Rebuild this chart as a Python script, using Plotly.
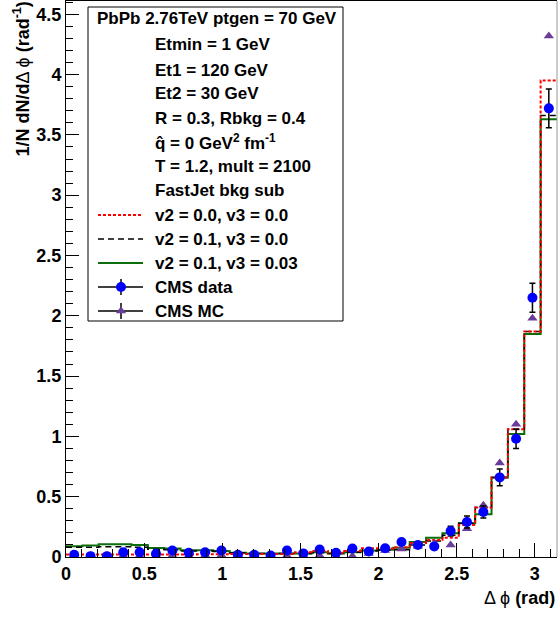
import numpy as np
import plotly.graph_objects as go

# ---------------- data (30 bins in delta phi from 0 to pi) ----------------
n_bins = 30

hist_v2_00_v3_00 = [0.020, 0.020, 0.020, 0.020, 0.020, 0.020, 0.020, 0.020, 0.022, 0.022,
                    0.025, 0.025, 0.025, 0.025, 0.040, 0.050, 0.035, 0.050, 0.073, 0.070,
                    0.080, 0.117, 0.140, 0.160, 0.265, 0.410, 0.660, 1.060, 1.870, 3.950]
hist_v2_01_v3_00 = [0.080, 0.080, 0.085, 0.085, 0.080, 0.065, 0.060, 0.050, 0.050, 0.045,
                    0.035, 0.030, 0.030, 0.030, 0.030, 0.035, 0.030, 0.040, 0.050, 0.055,
                    0.060, 0.100, 0.133, 0.180, 0.280, 0.410, 0.660, 1.060, 1.870, 3.660]
hist_v2_01_v3_003 = [0.090, 0.095, 0.105, 0.105, 0.100, 0.075, 0.070, 0.057, 0.055, 0.050,
                     0.035, 0.030, 0.030, 0.030, 0.030, 0.040, 0.030, 0.040, 0.054, 0.060,
                     0.076, 0.124, 0.160, 0.196, 0.280, 0.354, 0.660, 1.020, 1.850, 3.630]
cms_data = [0.018, 0.007, 0.007, 0.040, 0.040, 0.027, 0.054, 0.035, 0.040, 0.054,
            0.018, 0.018, 0.012, 0.054, 0.030, 0.062, 0.035, 0.070, 0.045, 0.072,
            0.125, 0.100, 0.088, 0.215, 0.290, 0.373, 0.660, 0.980, 2.150, 3.720]
cms_data_err = [0.015, 0.015, 0.015, 0.015, 0.015, 0.015, 0.015, 0.015, 0.015, 0.015,
                0.015, 0.015, 0.015, 0.015, 0.015, 0.015, 0.015, 0.015, 0.015, 0.018,
                0.020, 0.020, 0.020, 0.040, 0.050, 0.050, 0.070, 0.080, 0.120, 0.160]
cms_mc = [0.012, 0.012, 0.012, 0.012, 0.012, 0.012, 0.012, 0.012, 0.015, 0.015,
          0.012, 0.012, 0.012, 0.012, 0.012, 0.012, 0.008, 0.008, 0.030, 0.054,
          0.066, 0.090, 0.110, 0.100, 0.235, 0.430, 0.780, 1.100, 1.980, 4.320]

legend_header = "PbPb 2.76TeV ptgen = 70 GeV"
legend_info = ["Etmin = 1 GeV", "Et1 = 120 GeV", "Et2 = 30 GeV", "R = 0.3, Rbkg = 0.4",
               "q\u0302 = 0 GeV<sup>2</sup> fm<sup>-1</sup>", "T = 1.2, mult = 2100",
               "FastJet bkg sub"]
legend_series = ["v2 = 0.0, v3 = 0.0", "v2 = 0.1, v3 = 0.0", "v2 = 0.1, v3 = 0.03",
                 "CMS data", "CMS MC"]

edges = np.linspace(0, np.pi, n_bins + 1)
centers = 0.5 * (edges[:-1] + edges[1:])

# ---------------- layout geometry ----------------
W, H = 559, 617
L, R, T, B = 66, 2, 1, 60
pw, ph = W - L - R, H - T - B


def px(x):
    return (x - L) / pw


def py(y):
    return (H - B - y) / ph


FONT = "Liberation Sans"
RED, BLACK, GREEN = "#ff0000", "#000000", "#0a6e0a"
BLUE, PURPLE = "#0000ff", "#6a3d9a"

fig = go.Figure()


def step_y(v):
    return list(v) + [v[-1]]


fig.add_trace(go.Scatter(x=edges, y=step_y(hist_v2_01_v3_003), mode="lines", line_shape="hv",
                         line=dict(color=GREEN, width=2), showlegend=False))
fig.add_trace(go.Scatter(x=edges, y=step_y(hist_v2_01_v3_00), mode="lines", line_shape="hv",
                         line=dict(color=BLACK, width=1.5, dash="6px,4px"), showlegend=False))
fig.add_trace(go.Scatter(x=edges, y=step_y(hist_v2_00_v3_00), mode="lines", line_shape="hv",
                         line=dict(color=RED, width=2, dash="3px,2px"), showlegend=False))
fig.add_trace(go.Scatter(x=centers, y=cms_mc, mode="markers",
                         marker=dict(symbol="triangle-up", size=9, color=PURPLE),
                         showlegend=False))
fig.add_trace(go.Scatter(x=centers, y=cms_data, mode="markers",
                         marker=dict(symbol="circle", size=10, color=BLUE),
                         error_y=dict(type="data", array=cms_data_err, color=BLACK,
                                      thickness=1.5, width=3),
                         showlegend=False))

# ---------------- legend (manual, ROOT-like) ----------------
row_y = [18, 45, 70, 94, 118, 142, 166, 190, 215, 239, 263, 287, 311]
lx0, lx1, lxm = 98, 143, 121

legend_lines = [(RED, "3px,2px", 2), (BLACK, "6px,4px", 1.5), (GREEN, "solid", 2)]
for (col, dash, w), yy in zip(legend_lines, row_y[8:11]):
    fig.add_trace(go.Scatter(x=[lx0, lx1], y=[yy, yy], xaxis="x2", yaxis="y2", mode="lines",
                             line=dict(color=col, dash=dash, width=w), showlegend=False,
                             hoverinfo="skip"))
for (sym, col, sz), yy in zip([("circle", BLUE, 10), ("triangle-up", PURPLE, 9)], row_y[11:13]):
    fig.add_trace(go.Scatter(x=[lx0, lx1], y=[yy, yy], xaxis="x2", yaxis="y2", mode="lines",
                             line=dict(color=BLACK, width=1.5), showlegend=False,
                             hoverinfo="skip"))
    fig.add_trace(go.Scatter(x=[lxm, lxm], y=[yy - 8, yy + 8], xaxis="x2", yaxis="y2",
                             mode="lines", line=dict(color=BLACK, width=1.5),
                             showlegend=False, hoverinfo="skip"))
    fig.add_trace(go.Scatter(x=[lxm], y=[yy], xaxis="x2", yaxis="y2", mode="markers",
                             marker=dict(symbol=sym, size=sz, color=col), showlegend=False,
                             hoverinfo="skip"))

annotations = []
lfont = dict(family=FONT, size=17, color="black", weight="bold")
annotations.append(dict(text=legend_header, x=px(95), y=py(row_y[0]), xref="paper",
                        yref="paper", xanchor="left", yanchor="middle", showarrow=False,
                        font=lfont))
for txt, yy in zip(legend_info + legend_series, row_y[1:]):
    annotations.append(dict(text=txt, x=px(153), y=py(yy), xref="paper", yref="paper",
                            xanchor="left", yanchor="middle", showarrow=False, font=lfont))

greek = "<span style='font-weight:normal'>\u0394 \u03d5</span>"
annotations.append(dict(text=greek + " (rad)", x=1.0, y=py(598), xref="paper", yref="paper",
                        xanchor="right", yanchor="middle", showarrow=False,
                        font=dict(family=FONT, size=18, color="black", weight="bold")))
annotations.append(dict(text="1/N dN/d" + greek + " (rad<sup>-1</sup>)", x=px(22), y=py(0),
                        xref="paper", yref="paper", xanchor="center", yanchor="top",
                        textangle=-90, showarrow=False,
                        font=dict(family=FONT, size=18, color="black", weight="bold")))

shapes = [
    dict(type="rect", xref="paper", yref="paper", x0=px(88), x1=px(343), y0=py(7), y1=py(321),
         line=dict(color="black", width=1), fillcolor="rgba(0,0,0,0)"),
    dict(type="line", xref="paper", yref="paper", x0=1, x1=1, y0=0, y1=1,
         line=dict(color="#999999", width=1)),
]

tickfont = dict(family=FONT, size=18, color="black", weight="bold")
fig.update_layout(
    width=W, height=H, margin=dict(l=L, r=R, t=T, b=B, autoexpand=False),
    paper_bgcolor="white", plot_bgcolor="white",
    font=dict(family=FONT, color="black"),
    annotations=annotations, shapes=shapes, showlegend=False,
    xaxis=dict(range=[0, np.pi], showgrid=False, zeroline=False, showline=True,
               linecolor="black", linewidth=1, mirror=True, ticks="inside", ticklen=14,
               tickwidth=1, tickcolor="black", tick0=0, dtick=0.5, tickfont=tickfont,
               minor=dict(ticks="inside", ticklen=8, dtick=0.1, tickcolor="black",
                          showgrid=False)),
    yaxis=dict(range=[0, 4.61], showgrid=False, zeroline=False, showline=True,
               linecolor="black", linewidth=1, ticks="inside", ticklen=13, tickwidth=1,
               tickcolor="black", tick0=0, dtick=0.5, tickfont=tickfont,
               minor=dict(ticks="inside", ticklen=7, dtick=0.1, tickcolor="black",
                          showgrid=False)),
    xaxis2=dict(range=[L, W - R], overlaying="x", visible=False, domain=[0, 1]),
    yaxis2=dict(range=[H - B, T], overlaying="y", visible=False, domain=[0, 1]),
)

fig.write_html("out.html", config={"displayModeBar": False},
               post_script="document.body.style.margin='0';"
                           "document.body.style.overflow='hidden';")
